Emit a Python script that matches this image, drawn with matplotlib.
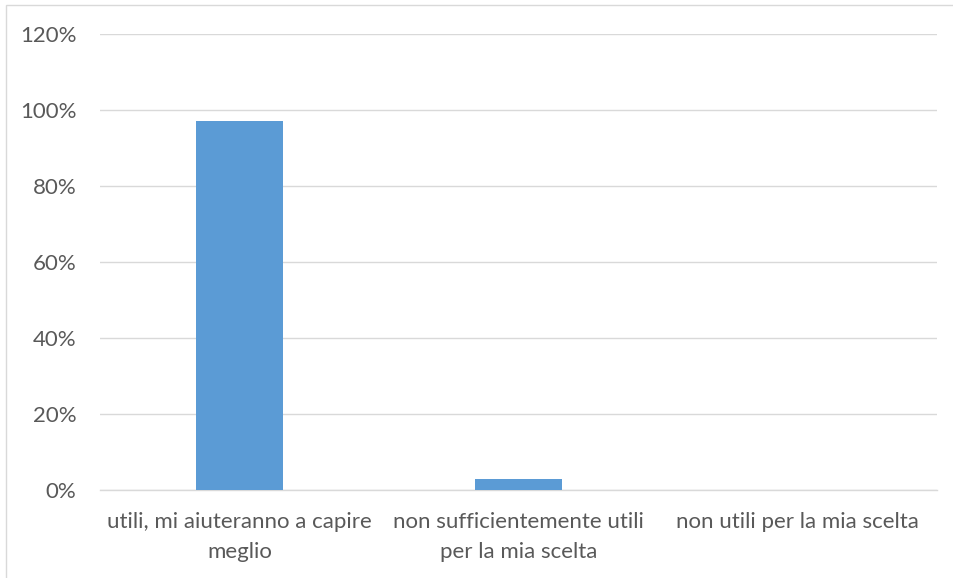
import matplotlib
matplotlib.use("Agg")
import matplotlib.pyplot as plt
from matplotlib.patches import Rectangle
from matplotlib.ticker import PercentFormatter

categories = ["utili, mi aiuteranno a capire\nmeglio",
              "non sufficientemente utili\nper la mia scelta",
              "non utili per la mia scelta"]
values = [97, 3, 0]
yticks = [0, 20, 40, 60, 80, 100, 120]

plt.rcParams['font.family'] = ['Lato', 'DejaVu Sans']

W, H = 954, 578
fig = plt.figure(figsize=(W / 100, H / 100), dpi=100)
ax = fig.add_axes([100 / W, 88 / H, 837 / W, 456 / H])

x = range(len(categories))
ax.bar(x, values, width=0.315, color="#5b9bd5", zorder=3)

ax.set_xlim(-0.5, 2.5)
ax.set_ylim(0, 120)
ax.set_yticks(yticks)
ax.yaxis.set_major_formatter(PercentFormatter(decimals=0))
ax.set_xticks(list(x))
ax.set_xticklabels(categories, linespacing=1.6)

ax.grid(axis="y", color="#d9d9d9", linewidth=1.0, zorder=0)
for s in ["top", "right", "left"]:
    ax.spines[s].set_visible(False)
ax.spines["bottom"].set_color("#d9d9d9")
ax.spines["bottom"].set_linewidth(1.0)
ax.tick_params(axis="both", length=0, labelsize=16, labelcolor="#595959")
ax.tick_params(axis="y", pad=17)
ax.tick_params(axis="x", pad=16)

# chart frame (cropped on the right and bottom)
fig.patches.append(Rectangle((6 / W, -0.1), 1.2, (H - 5) / H + 0.1,
                             transform=fig.transFigure, fill=False,
                             edgecolor="#d9d9d9", linewidth=1.0))

fig.savefig("out.png", dpi=100)
